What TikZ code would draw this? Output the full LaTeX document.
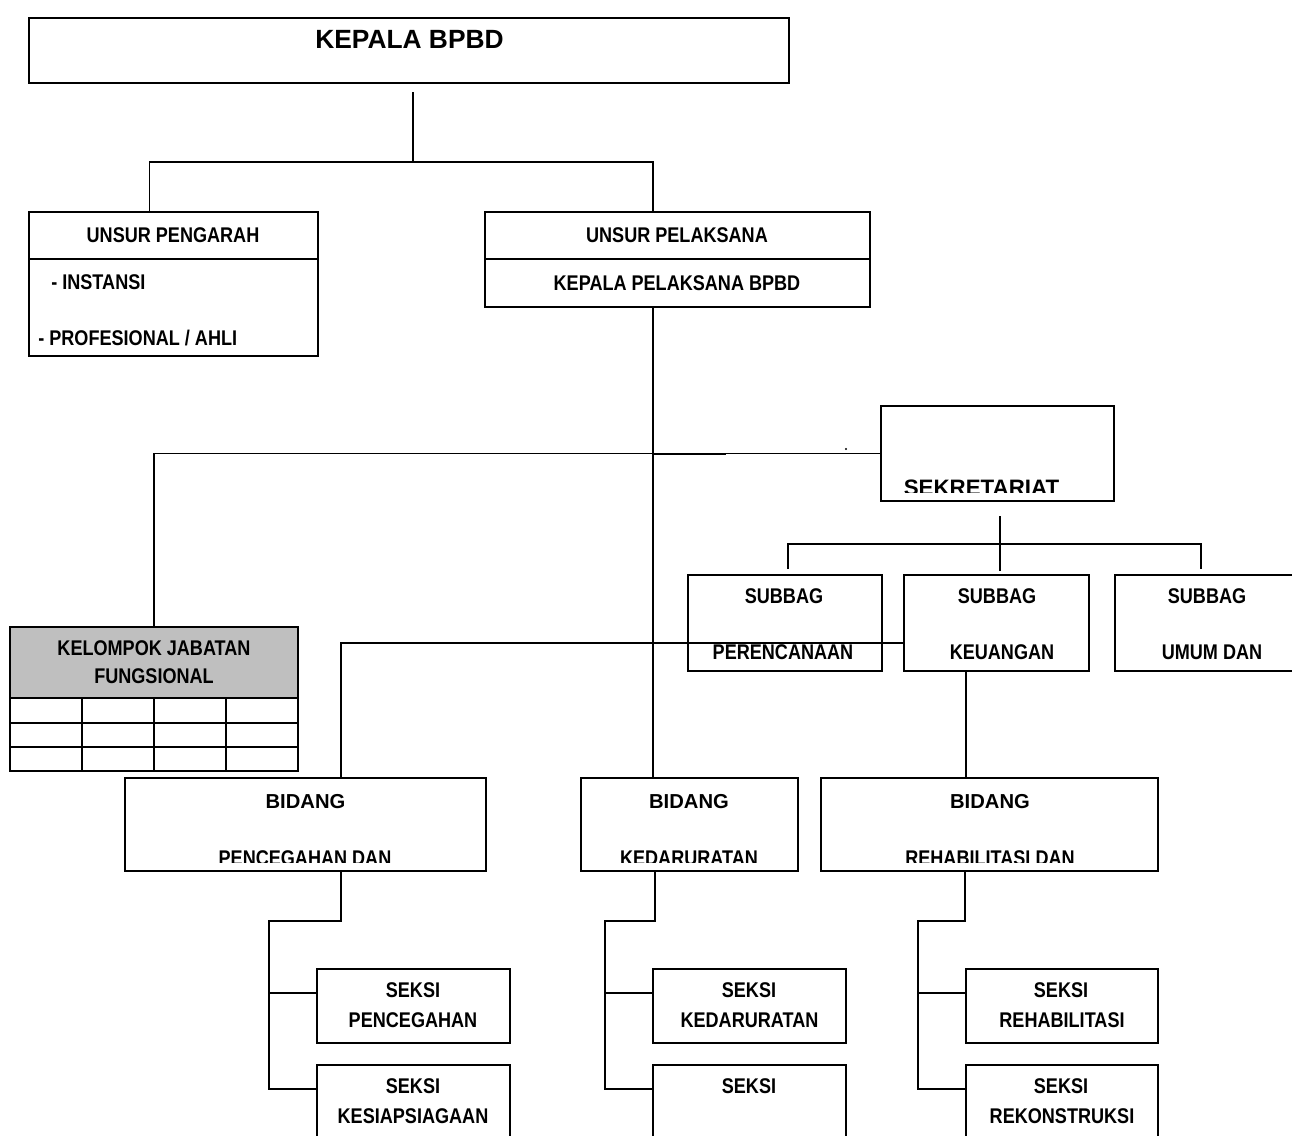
\documentclass[tikz,border=0pt]{standalone}
\usepackage{fontspec}
\usepackage{tikz}
\usetikzlibrary{positioning, fit, calc}
\newfontfamily\orgfont{Liberation Sans}
\newfontfamily\orgnarrow{Liberation Sans}[FakeStretch=0.85]
\definecolor{headgray}{RGB}{191,191,191}
\tikzset{
    orgbox/.style={draw=black, line width=1.1pt, inner sep=0pt, outer sep=0pt},
    link/.style={line width=1.1pt, color=black},
    lbl/.style={font=\orgnarrow\bfseries\fontsize{12.1}{14}\selectfont, inner sep=0pt, anchor=base},
    lblbid/.style={font=\orgfont\bfseries\fontsize{11.5}{13}\selectfont, inner sep=0pt, anchor=base},
    lblsek/.style={font=\orgfont\bfseries\fontsize{12.7}{15}\selectfont, inner sep=0pt, anchor=base},
    lbltitle/.style={font=\orgfont\bfseries\fontsize{15}{18}\selectfont, inner sep=0pt, anchor=base}
}

\begin{document}
\begin{tikzpicture}[x=0.02cm, y=-0.02cm]
    \useasboundingbox (0,0) rectangle (1292,1136);
    \clip (0,0) rectangle (1292,1136);

    % boxes
    \node[orgbox, fit={(29,18) (789,83)}] (kepala) {};
    \node[orgbox, fit={(29,212) (318,356)}] (pengarah) {};
    \node[orgbox, fit={(485,212) (870,307)}] (pelaksana) {};
    \node[orgbox, fit={(881,406) (1114,501)}] (sekr) {};
    \node[orgbox, fit={(688,575) (882,671)}] (perenc) {};
    \node[orgbox, fit={(904,575) (1089,671)}] (keu) {};
    \node[orgbox, fit={(1115,575) (1310,671)}] (umum) {};
    \node[orgbox, fill=headgray, fit={(10,627) (298,698)}] (fungsionalhead) {};
    \node[orgbox, fit={(10,627) (298,771)}] (fungsional) {};
    \node[orgbox, fit={(125,778) (486,871)}] (bidpc) {};
    \node[orgbox, fit={(581,778) (798,871)}] (bidkd) {};
    \node[orgbox, fit={(821,778) (1158,871)}] (bidrh) {};
    \node[orgbox, fit={(317,969) (510,1043)}] (s1) {};
    \node[orgbox, fit={(317,1065) (510,1170)}] (s2) {};
    \node[orgbox, fit={(653,969) (846,1043)}] (s3) {};
    \node[orgbox, fit={(653,1065) (846,1170)}] (s4) {};
    \node[orgbox, fit={(966,969) (1158,1043)}] (s5) {};
    \node[orgbox, fit={(966,1065) (1158,1170)}] (s6) {};

    % inner rules
    \draw[link] ($(pengarah.north west)+(0,47)$) -- ($(pengarah.north east)+(0,47)$);
    \draw[link] ($(pelaksana.north west)+(0,47)$) -- ($(pelaksana.north east)+(0,47)$);
    \foreach \r in {723,747} \draw[link] (10,\r) -- (298,\r);
    \foreach \c in {82,154,226} \draw[link] (\c,698) -- (\c,771);

    % connectors
    \draw[link] ($(kepala.south)+(4,9)$) -- ($(kepala.south)+(4,80)$);
    \draw[link] ($(pengarah.north)+(-24,0)$) |- ($(pelaksana.north)+(-24.5,-50)$) -- ($(pelaksana.north)+(-24.5,0)$);
    \draw[link] ($(pelaksana.south)+(-24.5,0)$) coordinate (spine) -- (spine |- bidkd.north);
    \draw[link] (fungsional.north) |- (sekr.west);
    \draw[link] ($(spine |- sekr.west)+(0,1)$) -- ++(73,0);
    \fill (846,449) circle[radius=0.7pt];
    \draw[link] ($(sekr.south)+(2.5,15)$) -- ($(sekr.south)+(2.5,43)$) coordinate (subhub);
    \draw[link] ($(perenc.north)+(3,-6)$) |- (subhub) -| ($(umum.north)+(-11.5,-6)$);
    \draw[link] (subhub) -- ($(keu.north)+(3.5,-4)$);
    \draw[link] ($(keu.west)+(0,20)$) -| ($(bidpc.north)+(35.5,0)$);
    \draw[link] ($(keu.south)+(-30.5,0)$) coordinate (keudown) -- (keudown |- bidrh.north);
    \foreach \bid/\sa/\sb/\dx in {bidpc/s1/s2/35.5, bidkd/s3/s4/-34.5, bidrh/s5/s6/-24.5} {
        \draw[link] ($(\bid.south)+(\dx,0)$) |- ($(\sa.north west)+(-48,-48)$) |- ($(\sb.north west)+(0,24)$);
        \draw[link] ($(\sa.north west)+(-48,24)$) -- ($(\sa.north west)+(0,24)$);
    }

    % labels
    \node[lbltitle] (tkepala) at (409.5,48) {KEPALA BPBD};
    \node[lbl] (tpengarah) at (173,242) {UNSUR PENGARAH};
    \node[lbl, anchor=base west] (tinstansi) at (51,289) {- INSTANSI};
    \node[lbl, anchor=base west] (tprofesional) at (38,345) {- PROFESIONAL / AHLI};
    \node[lbl] (tpelaksana) at (677,242) {UNSUR PELAKSANA};
    \node[lbl] (tkalak) at (677,290) {KEPALA PELAKSANA BPBD};
    \begin{scope}
        \clip (sekr.north west) rectangle ($(sekr.south east)+(0,-9)$);
        \node[lblsek] (tsekr) at (981.5,495) {SEKRETARIAT};
    \end{scope}
    \node[lbl] (tsub1) at (784,603) {SUBBAG};
    \node[lbl] (tperenc) at (783,659) {PERENCANAAN};
    \node[lbl] (tsub2) at (997,603) {SUBBAG};
    \node[lbl] (tkeu) at (1002,659) {KEUANGAN};
    \node[lbl] (tsub3) at (1207,603) {SUBBAG};
    \node[lbl] (tumum) at (1212,659) {UMUM DAN};
    \node[lbl] (tkelompok) at (154,655) {KELOMPOK JABATAN};
    \node[lbl] (tfungsional) at (154,683) {FUNGSIONAL};
    \node[lblbid] (tbid1) at (305.5,808) {BIDANG};
    \node[lblbid] (tbid2) at (689,808) {BIDANG};
    \node[lblbid] (tbid3) at (990,808) {BIDANG};
    \begin{scope}
        \clip ($(bidpc.south west)+(0,-9)$) rectangle (bidrh.north east);
        \node[lbl] (tbidpc) at (305,865) {PENCEGAHAN DAN};
        \node[lbl] (tbidkd) at (689,865) {KEDARURATAN};
        \node[lbl] (tbidrh) at (990,865) {REHABILITASI DAN};
    \end{scope}
    \node[lbl] (ts1a) at (413,997) {SEKSI};
    \node[lbl] (ts1b) at (413,1027) {PENCEGAHAN};
    \node[lbl] (ts2a) at (413,1093) {SEKSI};
    \node[lbl] (ts2b) at (413,1123) {KESIAPSIAGAAN};
    \node[lbl] (ts3a) at (749,997) {SEKSI};
    \node[lbl] (ts3b) at (749.5,1027) {KEDARURATAN};
    \node[lbl] (ts4a) at (749,1093) {SEKSI};
    \node[lbl] (ts5a) at (1061,997) {SEKSI};
    \node[lbl] (ts5b) at (1062,1027) {REHABILITASI};
    \node[lbl] (ts6a) at (1061,1093) {SEKSI};
    \node[lbl] (ts6b) at (1062,1123) {REKONSTRUKSI};
\end{tikzpicture}
\end{document}
